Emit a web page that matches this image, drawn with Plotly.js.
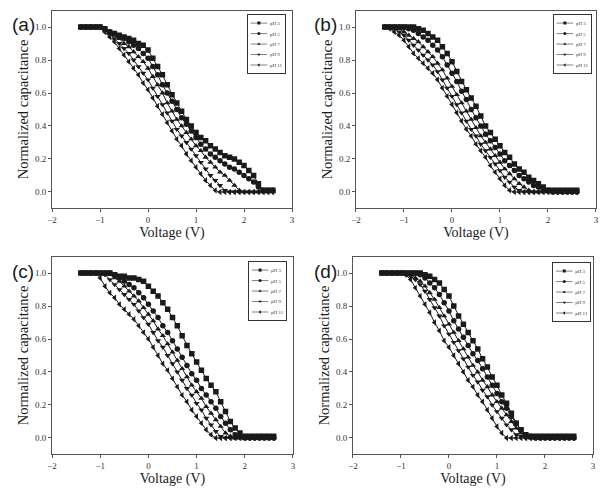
<!DOCTYPE html>
<html><head><meta charset="utf-8">
<script src="https://cdn.plot.ly/plotly-3.0.1.min.js"></script>
<style>html,body{margin:0;padding:0;background:#fff}#chart{width:600px;height:493px}</style>
</head><body><div id="chart"></div>
<script>
const voltage = [-1.4,-1.3,-1.2,-1.1,-1.0,-0.9,-0.8,-0.7,-0.6,-0.5,-0.4,-0.3,-0.2,-0.1,0.0,0.1,0.2,0.3,0.4,0.5,0.6,0.7,0.8,0.9,1.0,1.1,1.2,1.3,1.4,1.5,1.6,1.7,1.8,1.9,2.0,2.1,2.2,2.3,2.4,2.5,2.6];
const seriesNames = ['pH 3','pH 5','pH 7','pH 9','pH 11'];
const panelLabels = ['(a)','(b)','(c)','(d)'];
const yTickVals = [0.0,0.2,0.4,0.6,0.8,1.0];
const xTickVals = [-2,-1,0,1,2,3];

const a_pH3 = [1,1,1,1,1,0.99,0.97,0.96,0.95,0.94,0.93,0.92,0.90,0.89,0.86,0.81,0.76,0.71,0.65,0.59,0.54,0.49,0.44,0.40,0.36,0.33,0.31,0.28,0.26,0.24,0.22,0.21,0.20,0.18,0.16,0.13,0.10,0.05,0.01,0.01,0.01];
const a_pH5 = [1,1,1,1,1,0.99,0.97,0.96,0.94,0.93,0.91,0.89,0.87,0.84,0.81,0.76,0.71,0.65,0.60,0.55,0.50,0.45,0.41,0.37,0.33,0.29,0.26,0.23,0.21,0.19,0.17,0.15,0.14,0.12,0.10,0.08,0.06,0.03,0.01,0.01,0.01];
const a_pH7 = [1,1,1,1,1,0.99,0.97,0.95,0.93,0.90,0.88,0.85,0.82,0.79,0.75,0.70,0.65,0.60,0.54,0.49,0.44,0.40,0.36,0.32,0.28,0.25,0.21,0.18,0.15,0.12,0.10,0.07,0.04,0.01,0,0,0,0,0,0,0];
const a_pH9 = [1,1,1,1,1,0.98,0.96,0.93,0.90,0.87,0.84,0.80,0.76,0.72,0.68,0.63,0.58,0.53,0.48,0.43,0.38,0.34,0.30,0.26,0.22,0.18,0.14,0.10,0.07,0.04,0.01,0,0,0,0,0,0,0,0,0,0];
const a_pH11 = [1,1,1,1,1,0.97,0.94,0.91,0.87,0.83,0.79,0.75,0.71,0.66,0.62,0.57,0.52,0.47,0.42,0.37,0.32,0.28,0.23,0.19,0.15,0.11,0.07,0.04,0.01,0,0,0,0,0,0,0,0,0,0,0,0];

const b_pH3 = [1,1,1,1,1,1,1,0.99,0.98,0.96,0.94,0.92,0.88,0.84,0.79,0.73,0.67,0.62,0.57,0.52,0.46,0.40,0.36,0.32,0.28,0.24,0.21,0.17,0.14,0.12,0.09,0.07,0.05,0.03,0.01,0.01,0.01,0.01,0.01,0.01,0.01];
const b_pH5 = [1,1,1,1,1,0.99,0.98,0.96,0.94,0.92,0.89,0.86,0.82,0.77,0.72,0.67,0.61,0.56,0.50,0.45,0.40,0.35,0.31,0.27,0.23,0.19,0.16,0.13,0.10,0.08,0.06,0.04,0.03,0.02,0.01,0,0,0,0,0,0];
const b_pH7 = [1,1,1,0.99,0.97,0.95,0.93,0.91,0.88,0.85,0.82,0.78,0.74,0.69,0.64,0.59,0.54,0.49,0.44,0.39,0.34,0.30,0.26,0.22,0.18,0.14,0.11,0.08,0.05,0.03,0.01,0,0,0,0,0,0,0,0,0,0];
const b_pH9 = [1,1,0.99,0.97,0.95,0.92,0.89,0.86,0.83,0.80,0.77,0.73,0.68,0.63,0.58,0.53,0.48,0.43,0.38,0.34,0.29,0.25,0.21,0.17,0.13,0.09,0.06,0.03,0.01,0,0,0,0,0,0,0,0,0,0,0,0];
const b_pH11 = [1,0.99,0.97,0.95,0.92,0.88,0.84,0.81,0.78,0.75,0.72,0.68,0.63,0.58,0.53,0.48,0.43,0.38,0.34,0.29,0.25,0.21,0.16,0.12,0.08,0.04,0.01,0,0,0,0,0,0,0,0,0,0,0,0,0,0];

const c_pH3 = [1,1,1,1,1,1,1,0.99,0.98,0.98,0.97,0.97,0.96,0.95,0.92,0.89,0.86,0.82,0.78,0.73,0.68,0.62,0.56,0.51,0.46,0.41,0.36,0.32,0.28,0.22,0.16,0.10,0.06,0.03,0.01,0.01,0.01,0.01,0.01,0.01,0.01];
const c_pH5 = [1,1,1,1,1,1,1,0.99,0.97,0.95,0.93,0.91,0.88,0.85,0.81,0.77,0.73,0.68,0.64,0.59,0.54,0.49,0.44,0.39,0.35,0.30,0.26,0.22,0.18,0.13,0.09,0.05,0.02,0.01,0,0,0,0,0,0,0];
const c_pH7 = [1,1,1,1,1,1,0.99,0.97,0.95,0.92,0.89,0.86,0.83,0.79,0.75,0.71,0.66,0.62,0.57,0.52,0.47,0.42,0.37,0.32,0.28,0.24,0.19,0.15,0.11,0.07,0.03,0.01,0,0,0,0,0,0,0,0,0];
const c_pH9 = [1,1,1,1,1,0.99,0.96,0.93,0.90,0.87,0.84,0.81,0.77,0.73,0.69,0.64,0.59,0.55,0.50,0.45,0.40,0.35,0.30,0.26,0.21,0.17,0.12,0.08,0.04,0.01,0,0,0,0,0,0,0,0,0,0,0];
const c_pH11 = [1,1,1,1,0.97,0.92,0.88,0.85,0.81,0.78,0.75,0.72,0.68,0.64,0.60,0.55,0.50,0.45,0.41,0.36,0.31,0.26,0.22,0.17,0.13,0.09,0.05,0.02,0,0,0,0,0,0,0,0,0,0,0,0,0];

const d_pH3 = [1,1,1,1,1,1,1,1,1,0.99,0.98,0.96,0.94,0.90,0.86,0.80,0.74,0.69,0.64,0.59,0.54,0.48,0.43,0.37,0.32,0.26,0.21,0.15,0.09,0.05,0.02,0.01,0.01,0.01,0.01,0.01,0.01,0.01,0.01,0.01,0.01];
const d_pH5 = [1,1,1,1,1,1,1,1,0.99,0.97,0.94,0.91,0.87,0.82,0.77,0.71,0.66,0.61,0.56,0.51,0.47,0.42,0.37,0.32,0.27,0.22,0.18,0.13,0.09,0.05,0.02,0.01,0,0,0,0,0,0,0,0,0];
const d_pH7 = [1,1,1,1,1,1,0.99,0.97,0.95,0.92,0.88,0.84,0.79,0.74,0.69,0.64,0.59,0.54,0.49,0.44,0.40,0.35,0.31,0.26,0.22,0.18,0.14,0.10,0.06,0.03,0.01,0,0,0,0,0,0,0,0,0,0];
const d_pH9 = [1,1,1,1,1,0.99,0.98,0.96,0.93,0.89,0.84,0.79,0.74,0.68,0.63,0.58,0.53,0.48,0.43,0.38,0.34,0.29,0.25,0.20,0.16,0.12,0.08,0.05,0.02,0.01,0,0,0,0,0,0,0,0,0,0,0];
const d_pH11 = [1,1,1,1,1,0.99,0.96,0.91,0.86,0.81,0.76,0.70,0.65,0.59,0.55,0.50,0.45,0.40,0.35,0.31,0.26,0.22,0.17,0.12,0.07,0.03,0,0,0,0,0,0,0,0,0,0,0,0,0,0,0];

const panels = [
  [a_pH3,a_pH5,a_pH7,a_pH9,a_pH11],
  [b_pH3,b_pH5,b_pH7,b_pH9,b_pH11],
  [c_pH3,c_pH5,c_pH7,c_pH9,c_pH11],
  [d_pH3,d_pH5,d_pH7,d_pH9,d_pH11]
];
const symbols = ['square','circle','triangle-up','triangle-down','triangle-left'];

const serif = 'Liberation Serif, Times New Roman, serif';
const ink = '#1a1a1a';

const traces = [];
panels.forEach((series, p) => {
  const sfx = p === 0 ? '' : String(p + 1);
  series.forEach((ys, s) => {
    traces.push({
      type: 'scatter', mode: 'lines+markers',
      x: voltage, y: ys, name: seriesNames[s],
      xaxis: 'x' + sfx, yaxis: 'y' + sfx,
      legend: 'legend' + sfx,
      line: {color: ink, width: 1},
      marker: {symbol: symbols[s], size: 5.5, color: ink}
    });
  });
});

const xDomains = [[0.0867,0.4867],[0.5933,0.9933],[0.0867,0.4883],[0.5883,0.9883]];
const yDomains = [[0.5771,0.9787],[0.5771,0.9787],[0.0781,0.4797],[0.0781,0.4797]];
const legendPos = [[0.478,1-14/493],[0.988,1-14/493],[0.480,1-261/493],[0.987,1-262/493]];
const labelX = [10/600, 312/600, 10/600, 312/600];
const labelY = [1-25/493, 1-25/493, 1-271/493, 1-271/493];

const layout = {
  width: 600, height: 493,
  margin: {l:0, r:0, t:0, b:0},
  paper_bgcolor: '#fff', plot_bgcolor: '#fff',
  font: {family: serif, color: ink},
  annotations: []
};
for (let p = 0; p < 4; p++) {
  const sfx = p === 0 ? '' : String(p + 1);
  layout['xaxis' + sfx] = {
    domain: xDomains[p], range: [-2, 3], anchor: 'y' + sfx,
    tickvals: xTickVals, ticks: 'outside', ticklen: 3, tickcolor: '#555',
    showline: true, linecolor: '#555', linewidth: 1, mirror: true,
    showgrid: false, zeroline: false,
    tickfont: {family: serif, size: 9, color: '#333'},
    title: {text: 'Voltage (V)', font: {family: serif, size: 14, color: ink}, standoff: 2}
  };
  layout['yaxis' + sfx] = {
    domain: yDomains[p], range: [-0.1, 1.1], anchor: 'x' + sfx,
    tickvals: yTickVals, tickformat: '.1f', ticks: 'outside', ticklen: 3, tickcolor: '#555',
    showline: true, linecolor: '#555', linewidth: 1, mirror: true,
    showgrid: false, zeroline: false,
    tickfont: {family: serif, size: 9, color: '#333'},
    title: {text: 'Normalized capacitance', font: {family: serif, size: 14.5, color: ink}, standoff: 2}
  };
  layout['legend' + sfx] = {
    x: legendPos[p][0], y: legendPos[p][1], xanchor: 'right', yanchor: 'top',
    bgcolor: '#fff', bordercolor: '#333', borderwidth: 2,
    font: {family: serif, size: 9, color: '#333'},
    itemwidth: 30, tracegroupgap: 0,
    traceorder: 'normal'
  };
  layout.annotations.push({
    text: panelLabels[p], showarrow: false,
    xref: 'paper', yref: 'paper',
    x: labelX[p], y: labelY[p],
    xanchor: 'left', yanchor: 'middle',
    font: {family: 'Liberation Sans, Arial, sans-serif', size: 19, color: ink}
  });
}
Plotly.newPlot('chart', traces, layout, {displayModeBar: false, staticPlot: true}).then(gd => {
  // shrink each legend box to the compact size used in the original figure, keeping its top-right corner
  const targetH = 59;
  ['legend','legend2','legend3','legend4'].forEach(id => {
    const g = gd.querySelector('.infolayer g.' + id);
    if (!g) return;
    const bg = g.querySelector('rect.bg');
    if (!bg) return;
    const w = parseFloat(bg.getAttribute('width'));
    const h = parseFloat(bg.getAttribute('height'));
    const s = targetH / h;
    const tr = g.getAttribute('transform') || '';
    const m = tr.match(/translate\(\s*([-\d.eE]+)[\s,]*([-\d.eE]+)?\s*\)/);
    const x = m ? parseFloat(m[1]) : 0, y = m && m[2] ? parseFloat(m[2]) : 0;
    g.setAttribute('transform', 'translate(' + (x + w * (1 - s)) + ',' + y + ') scale(' + s + ')');
  });
});
</script>
</body></html>
